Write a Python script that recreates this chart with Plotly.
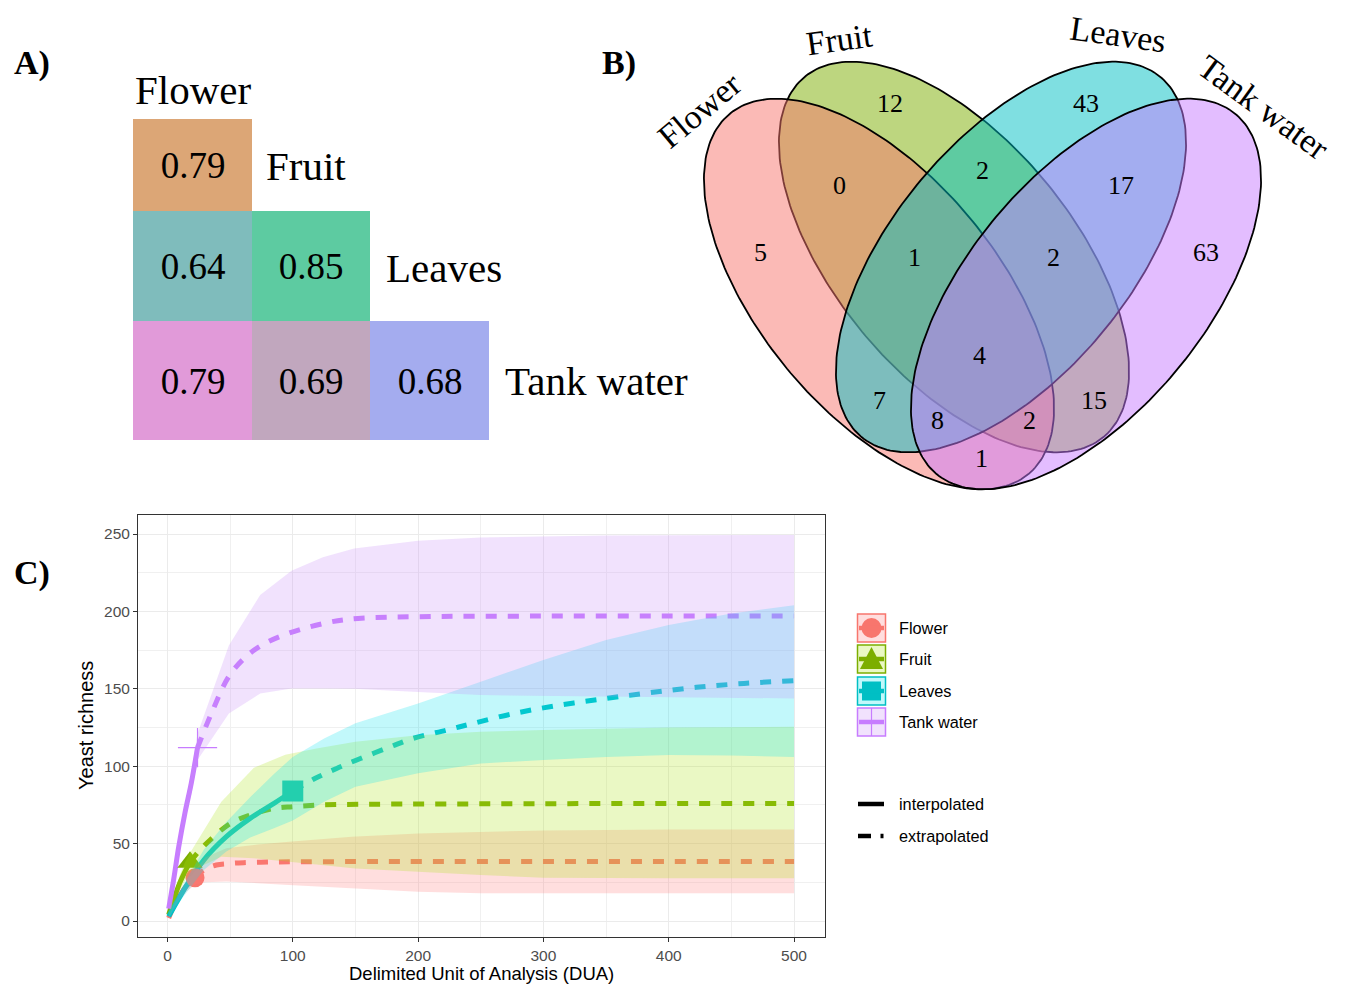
import numpy as np
import plotly.graph_objects as go

W, H = 1345, 985
SERIF = "Liberation Serif, Times New Roman, serif"
SANS = "Liberation Sans, Arial, sans-serif"

# ---------------- Panel A data (similarity matrix) ----------------
sim_cols = ["Flower", "Fruit", "Leaves"]
sim_rows = ["Fruit", "Leaves", "Tank water"]
sim_values = [[0.79, None, None],
              [0.64, 0.85, None],
              [0.79, 0.69, 0.68]]
sim_labels = ["Flower", "Fruit", "Leaves", "Tank water"]

# ---------------- Panel B data (Venn) ----------------
venn_sets = ["Flower", "Fruit", "Leaves", "Tank water"]
venn_regions = ["F", "Fr", "L", "T", "F&Fr", "Fr&L", "L&T", "F&Fr&L", "Fr&L&T",
                "F&Fr&L&T", "F&L", "Fr&T", "F&L&T", "F&Fr&T", "F&T"]
venn_counts = [5, 12, 43, 63, 0, 2, 17, 1, 2, 4, 7, 15, 8, 2, 1]

# ---------------- Panel C data (rarefaction / extrapolation) ----------------
groups = ["Flower", "Fruit", "Leaves", "Tank water"]
obs_x = [22, 18, 100, 24]
obs_y = [28, 38, 84, 112]

flower_interp_x = [1, 5, 10, 15, 22]
flower_interp_y = [2, 9.5, 16.5, 22.5, 28]
flower_extrap_x = [22, 29, 39, 50, 61, 80, 100, 150, 200, 300, 400, 500]
flower_extrap_y = [28, 33, 36.2, 37.2, 37.7, 38.1, 38.3, 38.4, 38.4, 38.4, 38.4, 38.4]
flower_band_x = [1, 5, 10, 15, 22, 30, 47, 72, 97, 122, 147, 200, 250, 300, 400, 500]
flower_lower = [1.5, 8, 14, 19, 23.5, 25, 25.5, 24.5, 23.3, 22, 21, 19, 18, 17.9, 17.9, 17.9]
flower_upper = [2.5, 11, 19, 26, 32.5, 41, 47, 49.5, 51.2, 53, 54.5, 56.6, 57.7, 58.5, 59.2, 59.2]

fruit_interp_x = [1, 5, 10, 14, 18]
fruit_interp_y = [4, 14, 25, 32, 38]
fruit_extrap_x = [18, 25, 34, 50, 66, 85, 100, 122, 154, 200, 300, 400, 500]
fruit_extrap_y = [38, 45, 52.3, 63, 68.5, 72.8, 73.9, 75, 75.4, 75.6, 75.8, 76, 76]
fruit_band_x = [1, 5, 10, 14, 18, 43, 69, 94, 119, 150, 200, 250, 300, 400, 500]
fruit_lower = [3, 11, 20, 26, 32, 41.5, 40.5, 38.5, 36.5, 34, 32, 29.7, 28, 27.6, 27.6]
fruit_upper = [5, 17, 30, 38, 44, 77, 99, 107.5, 111.5, 115.8, 120, 122.3, 123.4, 125, 125.5]

leaves_interp_x = [1, 13, 29, 47, 66, 85, 100]
leaves_interp_y = [3, 20, 39.4, 54.5, 66.3, 76, 84]
leaves_extrap_x = [100, 118, 135, 154, 178, 196, 223, 244, 276, 313, 350, 385, 422, 460, 500]
leaves_extrap_y = [84, 92.2, 98.6, 105, 112.6, 118, 123.4, 127.7, 134, 139.5, 143.8, 147.5, 151, 153.5, 155.3]
leaves_band_x = [1, 13, 29, 47, 66, 85, 100, 125, 150, 200, 250, 300, 350, 400, 450, 500]
leaves_lower = [2, 16, 33, 45, 54, 60, 65, 77, 86.8, 95.4, 101.8, 104, 106, 107.2, 107, 106]
leaves_upper = [4, 24, 46, 64, 80, 95, 106, 118, 127.7, 140.6, 154.6, 168.6, 181.5, 191.2, 198.7, 204]

tank_interp_x = [1, 5, 9, 14, 19, 24]
tank_interp_y = [8, 27, 48, 70, 89, 112]
tank_extrap_x = [24, 35, 49, 63, 77, 97, 129, 152, 200, 300, 400, 500]
tank_extrap_y = [112, 134, 158, 171, 179, 186, 193, 195.5, 196.6, 197, 197, 197]
tank_band_x = [1, 5, 9, 14, 19, 24, 49, 74, 99, 124, 149, 200, 250, 350, 500]
tank_lower = [7, 25, 45, 65, 82, 104, 134, 147, 150.3, 150.3, 150, 148, 146, 145, 143.8]
tank_upper = [9, 29, 51, 75, 96, 121, 178, 210.6, 226.3, 235, 240.7, 245.7, 247.8, 249, 249.4]

x_ticks = [0, 100, 200, 300, 400, 500]
y_ticks = [0, 50, 100, 150, 200, 250]

# ---------------- styles ----------------
group_colors = ["#F8766D", "#7CAE00", "#00BFC4", "#C77CFF"]
group_rgb = [(248, 118, 109), (124, 174, 0), (0, 191, 196), (199, 124, 255)]
band_rgb = [(255, 123, 123), (171, 227, 19), (11, 227, 239), (199, 139, 247)]
band_alpha = 0.25
cell_colors = ["#DCA676", "#7FBCBC", "#5DCBA1", "#E19AD9", "#C1A7BE", "#A4ACEF"]
venn_draw_order = [1, 0, 2, 3]  # Fruit, Flower, Leaves, Tank water


def px(x):
    return x / W


def py(y):
    return 1 - y / H


fig = go.Figure()

# ================= Panel C =================
series = [
    (flower_interp_x, flower_interp_y, flower_extrap_x, flower_extrap_y, flower_band_x, flower_lower, flower_upper),
    (fruit_interp_x, fruit_interp_y, fruit_extrap_x, fruit_extrap_y, fruit_band_x, fruit_lower, fruit_upper),
    (leaves_interp_x, leaves_interp_y, leaves_extrap_x, leaves_extrap_y, leaves_band_x, leaves_lower, leaves_upper),
    (tank_interp_x, tank_interp_y, tank_extrap_x, tank_extrap_y, tank_band_x, tank_lower, tank_upper),
]
for i, (ix, iy, ex, ey, bx, bl, bu) in enumerate(series):
    fig.add_trace(go.Scatter(x=ix, y=iy, mode="lines", line=dict(color=group_colors[i], width=5, shape="spline"),
                             hoverinfo="skip", xaxis="x", yaxis="y"))
    fig.add_trace(go.Scatter(x=ex, y=ey, mode="lines",
                             line=dict(color=group_colors[i], width=5, dash="11px,11px", shape="spline"),
                             hoverinfo="skip", xaxis="x", yaxis="y"))

symbols = ["circle", "triangle-up", "square", "cross-thin"]
sizes = [19, 22, 21, 28]
for i in range(4):
    fig.add_trace(go.Scatter(x=[obs_x[i]], y=[obs_y[i]], mode="markers",
                             marker=dict(symbol=symbols[i], size=sizes[i], color=group_colors[i],
                                         line=dict(color=group_colors[i], width=1.2 if i == 3 else 0)),
                             hoverinfo="skip", xaxis="x", yaxis="y"))

for i, (ix, iy, ex, ey, bx, bl, bu) in enumerate(series):
    r, g, b = band_rgb[i]
    fig.add_trace(go.Scatter(x=list(bx) + list(bx[::-1]), y=list(bu) + list(bl[::-1]),
                             mode="lines", fill="toself", line=dict(width=0),
                             fillcolor=f"rgba({r},{g},{b},{band_alpha})",
                             hoverinfo="skip", xaxis="x", yaxis="y"))

# ================= Panel A =================
col_edges = [0, 119, 237, 356]
row_edges = [0, 92, 202, 321]
z_idx = []
txt = []
k = 0
for r_ in range(3):
    zr, tr = [], []
    for c_ in range(3):
        v = sim_values[r_][c_]
        if v is None:
            zr.append(None)
            tr.append("")
        else:
            zr.append(k)
            tr.append(f"{v:.2f}")
            k += 1
    z_idx.append(zr)
    txt.append(tr)
cs = []
n = len(cell_colors)
for i, c in enumerate(cell_colors):
    cs.append([i / n, c])
    cs.append([(i + 1) / n, c])
fig.add_trace(go.Heatmap(x=col_edges, y=row_edges, z=z_idx, text=txt, texttemplate="%{text}",
                         textfont=dict(family=SERIF, size=37, color="black"),
                         colorscale=cs, zmin=-0.5, zmax=n - 0.5, showscale=False,
                         hoverinfo="skip", xaxis="x2", yaxis="y2"))

# ================= Panel B =================
ell_params = [  # cx, cy, a, b, angle(deg, screen)  -- Flower, Fruit, Leaves, Tank water
    (879, 294, 234, 118.5, 50.3),
    (954, 257, 234, 118.5, 50.3),
    (1011, 257, 234, 118.5, 129.7),
    (1086, 294, 234, 118.5, 129.7),
]
t = np.linspace(0, 2 * np.pi, 240)
for i in venn_draw_order:
    cx, cy, a, b, ang = ell_params[i]
    ph = np.deg2rad(ang)
    ex_ = cx + a * np.cos(t) * np.cos(ph) - b * np.sin(t) * np.sin(ph)
    ey_ = cy + a * np.cos(t) * np.sin(ph) + b * np.sin(t) * np.cos(ph)
    r, g, b_ = group_rgb[i]
    fig.add_trace(go.Scatter(x=ex_, y=ey_, mode="lines", fill="toself",
                             fillcolor=f"rgba({r},{g},{b_},0.5)",
                             line=dict(color="black", width=1.8),
                             hoverinfo="skip", xaxis="x3", yaxis="y3"))

annotations = []
region_pos = [(760, 252), (890, 103), (1086, 103), (1206, 252), (839, 185), (982, 170), (1121, 185),
              (914, 257), (1053, 257), (979, 355), (879, 400), (1094, 400), (937, 420), (1029, 420), (981, 458)]
for (xx, yy), cnt in zip(region_pos, venn_counts):
    annotations.append(dict(x=xx, y=yy, xref="x3", yref="y3", text=str(cnt), showarrow=False,
                            font=dict(family=SERIF, size=26, color="black"), xanchor="center", yanchor="middle"))
set_label_pos = [(699, 110, -40), (839, 39, -8), (1118, 34, 8), (1264, 107, 36)]
for (xx, yy, ang), lab in zip(set_label_pos, venn_sets):
    annotations.append(dict(x=xx, y=yy, xref="x3", yref="y3", text=lab, showarrow=False, textangle=ang,
                            font=dict(family=SERIF, size=34, color="black"), xanchor="center", yanchor="middle"))

# Panel A labels
a_label_pos = [(133, 90), (264, 166), (384, 268), (503, 381)]
for (xx, yy), lab in zip(a_label_pos, sim_labels):
    annotations.append(dict(x=px(xx), y=py(yy), xref="paper", yref="paper", text=lab, showarrow=False,
                            font=dict(family=SERIF, size=41, color="black"), xanchor="left", yanchor="middle"))

# Panel letters
for lab, xx, yy in [("A)", 12, 63), ("B)", 600, 63), ("C)", 12, 573)]:
    annotations.append(dict(x=px(xx), y=py(yy), xref="paper", yref="paper", text=f"<b>{lab}</b>",
                            showarrow=False, font=dict(family=SERIF, size=34, color="black"),
                            xanchor="left", yanchor="middle"))

# Axis titles panel C
annotations.append(dict(x=px(481.5), y=py(973.5), xref="paper", yref="paper", text="Delimited Unit of Analysis (DUA)",
                        showarrow=False, font=dict(family=SANS, size=18.5, color="black"),
                        xanchor="center", yanchor="middle", borderpad=0))
annotations.append(dict(x=px(86), y=py(726), xref="paper", yref="paper", text="Yeast richness", textangle=-90,
                        showarrow=False, font=dict(family=SANS, size=20, color="black"),
                        xanchor="center", yanchor="middle"))

# ---------------- manual legend (panel C) ----------------
shapes = []
leg_y = [628, 659, 691, 722]
for i, yc in enumerate(leg_y):
    r, g, b = band_rgb[i]
    x0, x1 = 857.5, 885.5
    shapes.append(dict(type="rect", xref="paper", yref="paper", x0=px(x0), x1=px(x1), y0=py(yc + 14), y1=py(yc - 14),
                       fillcolor=f"rgba({r},{g},{b},{band_alpha})", line=dict(color=group_colors[i], width=1.5)))
    if i == 0:
        shapes.append(dict(type="circle", xref="paper", yref="paper", x0=px(871.5 - 10), x1=px(871.5 + 10),
                           y0=py(yc + 10), y1=py(yc - 10), fillcolor=group_colors[i], line=dict(width=0)))
    elif i == 1:
        path = f"M {px(860)} {py(yc + 10)} L {px(883)} {py(yc + 10)} L {px(871.5)} {py(yc - 12)} Z"
        shapes.append(dict(type="path", xref="paper", yref="paper", path=path, fillcolor=group_colors[i],
                           line=dict(width=0)))
    elif i == 2:
        shapes.append(dict(type="rect", xref="paper", yref="paper", x0=px(862), x1=px(881),
                           y0=py(yc + 9.5), y1=py(yc - 9.5), fillcolor=group_colors[i], line=dict(width=0)))
    else:
        shapes.append(dict(type="line", xref="paper", yref="paper", x0=px(871.5), x1=px(871.5),
                           y0=py(yc + 14), y1=py(yc - 14), line=dict(color=group_colors[i], width=1.2)))
    shapes.append(dict(type="line", xref="paper", yref="paper", x0=px(859), x1=px(884), y0=py(yc), y1=py(yc),
                       line=dict(color=group_colors[i], width=4.5)))
    annotations.append(dict(x=px(897), y=py(yc), xref="paper", yref="paper", text=groups[i], showarrow=False,
                            font=dict(family=SANS, size=16.3, color="black"), xanchor="left", yanchor="middle"))

shapes.append(dict(type="line", xref="paper", yref="paper", x0=px(858), x1=px(884), y0=py(804), y1=py(804),
                   line=dict(color="black", width=4.5)))
shapes.append(dict(type="line", xref="paper", yref="paper", x0=px(858), x1=px(871), y0=py(836), y1=py(836),
                   line=dict(color="black", width=4.5)))
shapes.append(dict(type="line", xref="paper", yref="paper", x0=px(880.5), x1=px(883.5), y0=py(836), y1=py(836),
                   line=dict(color="black", width=4.5)))
for lab, yc in [("interpolated", 804), ("extrapolated", 836)]:
    annotations.append(dict(x=px(897), y=py(yc), xref="paper", yref="paper", text=lab, showarrow=False,
                            font=dict(family=SANS, size=16.3, color="black"), xanchor="left", yanchor="middle"))

axis_common = dict(showline=True, mirror=True, linecolor="#333333", linewidth=1, zeroline=False,
                   ticks="outside", ticklen=4, tickcolor="#333333", tickwidth=1,
                   tickfont=dict(family=SANS, size=15.5, color="#4D4D4D"),
                   showgrid=True, gridcolor="#EBEBEB", gridwidth=1.1)

fig.update_layout(
    width=W, height=H, margin=dict(l=0, r=0, t=0, b=0),
    paper_bgcolor="white", plot_bgcolor="rgba(0,0,0,0)", showlegend=False,
    xaxis=dict(domain=[px(138), px(825)], range=[-23.5, 524.7], tickvals=x_ticks, anchor="y",
               minor=dict(dtick=50, tick0=0, showgrid=True, gridcolor="#F0F0F0", gridwidth=0.6, ticklen=0),
               **axis_common),
    yaxis=dict(domain=[py(937), py(515)], range=[-10.3, 262.3], tickvals=y_ticks, anchor="x",
               minor=dict(dtick=25, tick0=0, showgrid=True, gridcolor="#F0F0F0", gridwidth=0.6, ticklen=0),
               **axis_common),
    xaxis2=dict(domain=[px(133), px(489)], range=[0, 356], visible=False, anchor="y2"),
    yaxis2=dict(domain=[py(440), py(119)], range=[321, 0], visible=False, anchor="x2"),
    xaxis3=dict(domain=[px(600), 1], range=[600, 1345], visible=False, anchor="y3"),
    yaxis3=dict(domain=[py(500), 1], range=[500, 0], visible=False, anchor="x3"),
    annotations=annotations,
    shapes=shapes,
)

fig.write_html("out.html")
